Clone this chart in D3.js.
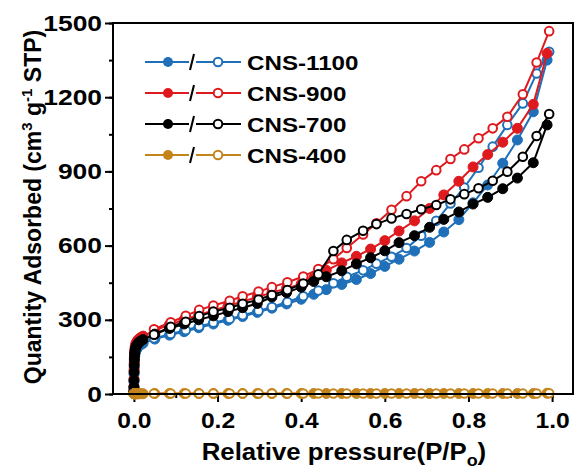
<!DOCTYPE html>
<html>
<head>
<meta charset="utf-8">
<script src="https://cdn.jsdelivr.net/npm/d3@7"></script>
<style>
  body { margin: 0; background: white; }
  svg { display: block; }
  text { font-family: 'Liberation Sans', Arial, sans-serif; font-weight: bold; }
</style>
</head>
<body>
<div id="bigdiv"></div>
<script>
// relative pressure grids
const pAds = [0.00005, 0.0001, 0.0002, 0.0004, 0.0007, 0.001, 0.0015, 0.002, 0.003, 0.004, 0.005, 0.006, 0.008, 0.01, 0.013, 0.017, 0.022,
  0.05, 0.085, 0.12, 0.155, 0.19, 0.225, 0.26, 0.295, 0.33, 0.365, 0.40, 0.43, 0.46, 0.497, 0.532, 0.566, 0.60, 0.634,
  0.671, 0.707, 0.741, 0.777, 0.811, 0.846, 0.882, 0.917, 0.955, 0.988]
const pDes = [0.993, 0.963, 0.93, 0.893, 0.858, 0.824, 0.79, 0.757, 0.723, 0.687, 0.652, 0.616, 0.58, 0.548, 0.509, 0.477,
  0.441, 0.405, 0.367, 0.33, 0.298, 0.26, 0.229, 0.19, 0.156, 0.124, 0.088, 0.048]

// quantity adsorbed (cm3/g STP)
const ads1100 = [10, 25, 50, 80, 105, 125, 142, 153, 165, 172, 177, 181, 186, 190, 195, 200, 205,
  222, 238, 252, 268, 283, 298, 313, 330, 347, 364, 383, 403, 422, 443, 463, 487, 516, 545, 578, 613, 655, 705, 773, 845, 933, 1027, 1141, 1350]
const des1100 = [1384, 1296, 1175, 1088, 1000, 915, 835, 770, 700, 640, 590, 555, 527, 500, 474, 448, 418, 395, 372, 352, 336, 318, 303, 288, 273, 258, 243, 225]

const ads900 = [12, 30, 60, 95, 125, 148, 165, 177, 190, 198, 204, 208, 214, 219, 224, 229, 234,
  258, 280, 300, 320, 338, 356, 374, 392, 410, 427, 445, 468, 500, 530, 557, 586, 620, 659, 700, 750, 805, 860, 918, 968, 1018, 1074, 1171, 1377]
const des900 = [1467, 1340, 1212, 1121, 1074, 1034, 989, 950, 905, 860, 800, 745, 690, 645, 590, 545, 505, 475, 452, 432, 414, 395, 377, 358, 340, 316, 290, 262]

const ads700 = [11, 28, 55, 88, 115, 138, 155, 166, 178, 186, 191, 195, 200, 205, 210, 215, 220,
  242, 265, 283, 300, 316, 333, 349, 366, 392, 410, 432, 455, 474, 498, 526, 551, 579, 612, 640, 674, 706, 736, 768, 795, 830, 873, 935, 1088]
const des700 = [1132, 1043, 959, 899, 862, 832, 808, 787, 764, 747, 728, 710, 687, 660, 623, 578, 484, 447, 420, 400, 382, 365, 349, 333, 315, 292, 272, 240]

const ads400 = [1, 1, 1, 1, 1, 1, 1, 1, 1, 1, 1, 1, 1, 1, 1, 1, 1,
  2, 2, 2, 2, 2, 2, 2, 2, 2, 2, 2, 2, 2, 2, 2, 2, 2, 2, 2, 2, 2, 2, 2, 2, 2, 2, 2, 3]
const des400 = [3, 2, 2, 2, 2, 2, 2, 2, 2, 2, 2, 2, 2, 2, 2, 2, 2, 2, 2, 2, 2, 2, 2, 2, 2, 2, 2, 2]

const names = ['CNS-1100', 'CNS-900', 'CNS-700', 'CNS-400']
const colors = ['#1f70b8', '#de1a1f', '#000000', '#c4841c']
const adsSeries = [ads1100, ads900, ads700, ads400]
const desSeries = [des1100, des900, des700, des400]

const xTicks = [0, 0.2, 0.4, 0.6, 0.8, 1.0]
const yTicks = [0, 300, 600, 900, 1200, 1500]

const W = 577, H = 470
const plot = { left: 113, right: 573, top: 23, bottom: 394 }

let svg = d3.select('div#bigdiv').append('svg')
  .attr('width', W).attr('height', H)

let x = d3.scaleLinear().domain([-0.05, 1.05]).range([plot.left, plot.right])
let y = d3.scaleLinear().domain([0, 1500]).range([plot.bottom, plot.top])

// the reference type is a bit wider than Liberation Sans, stretch it
function stretch(sel, k) {
  sel.each(function () {
    let len = this.getComputedTextLength()
    d3.select(this).attr('textLength', len * k).attr('lengthAdjust', 'spacingAndGlyphs')
  })
}

// minor ticks
let xAxisMinor = d3.axisBottom(x).tickValues(d3.range(0, 1.01, 0.1)).tickSize(4).tickFormat('')
let yAxisMinor = d3.axisLeft(y).tickValues(d3.range(0, 1501, 150)).tickSize(4).tickFormat('')
let xAxis = d3.axisBottom(x).tickValues(xTicks).tickSize(8).tickPadding(10).tickFormat(d3.format('.1f'))
let yAxis = d3.axisLeft(y).tickValues(yTicks).tickSize(8).tickPadding(3).tickFormat(d3.format('d'))

function styleAxis(g) {
  g.select('.domain').remove()
  g.selectAll('line').attr('stroke', 'black').attr('stroke-width', 2)
  g.selectAll('text').attr('fill', 'black').style('font-size', '22px')
}

svg.append('g').attr('transform', 'translate(0,' + plot.bottom + ')').call(xAxisMinor).call(styleAxis)
svg.append('g').attr('transform', 'translate(' + plot.left + ',0)').call(yAxisMinor).call(styleAxis)
let gx = svg.append('g').attr('transform', 'translate(0,' + plot.bottom + ')').call(xAxis).call(styleAxis)
let gy = svg.append('g').attr('transform', 'translate(' + plot.left + ',0)').call(yAxis).call(styleAxis)
stretch(gx.selectAll('text'), 1.12)
stretch(gy.selectAll('text'), 1.2)

// curves
let line = d3.line().x(d => x(d[0])).y(d => y(d[1]))
let curvesg = svg.append('g').attr('id', 'curves')

adsSeries.forEach((ads, si) => {
  let col = colors[si]
  let adsPts = pAds.map((p, i) => [p, ads[i]])
  let desPts = pDes.map((p, i) => [p, desSeries[si][i]])

  curvesg.append('path').datum(adsPts)
    .attr('d', line).attr('fill', 'none').attr('stroke', col).attr('stroke-width', 2)
  curvesg.append('g').selectAll('circle').data(adsPts).enter().append('circle')
    .attr('cx', d => x(d[0])).attr('cy', d => y(d[1])).attr('r', 5)
    .attr('fill', col).attr('stroke', col).attr('stroke-width', 1)

  curvesg.append('path').datum(desPts)
    .attr('d', line).attr('fill', 'none').attr('stroke', col).attr('stroke-width', 2)
  curvesg.append('g').selectAll('circle').data(desPts).enter().append('circle')
    .attr('cx', d => x(d[0])).attr('cy', d => y(d[1])).attr('r', 4.3)
    .attr('fill', 'white').attr('stroke', col).attr('stroke-width', 2)
})

// frame
svg.append('rect')
  .attr('x', plot.left).attr('y', plot.top)
  .attr('width', plot.right - plot.left).attr('height', plot.bottom - plot.top)
  .attr('fill', 'none').attr('stroke', 'black').attr('stroke-width', 2)

// legend
let legend = svg.append('g').attr('id', 'legend')
names.forEach((nm, i) => {
  let ly = 62 + i * 31
  let col = colors[i]
  let lg = legend.append('g').attr('transform', 'translate(0,' + ly + ')')
  lg.append('line').attr('x1', 145).attr('x2', 189).attr('y1', 0).attr('y2', 0)
    .attr('stroke', col).attr('stroke-width', 2)
  lg.append('line').attr('x1', 196).attr('x2', 241).attr('y1', 0).attr('y2', 0)
    .attr('stroke', col).attr('stroke-width', 2)
  lg.append('circle').attr('cx', 168).attr('cy', 0).attr('r', 5).attr('fill', col)
  lg.append('circle').attr('cx', 218).attr('cy', 0).attr('r', 4.3)
    .attr('fill', 'white').attr('stroke', col).attr('stroke-width', 2)
  lg.append('line').attr('x1', 190).attr('x2', 194).attr('y1', 8).attr('y2', -8)
    .attr('stroke', 'black').attr('stroke-width', 2)
  let t = lg.append('text').attr('x', 247).attr('y', 8).style('font-size', '21px').attr('fill', 'black').text(nm)
  stretch(t, 1.15)
})

// axis titles
let xt = svg.append('text').attr('x', 344).attr('y', 460).attr('text-anchor', 'middle')
  .style('font-size', '23px').attr('fill', 'black')
xt.append('tspan').text('Relative pressure(P/P')
xt.append('tspan').attr('dy', 6).style('font-size', '16px').text('o')
xt.append('tspan').attr('dy', -6).text(')')
stretch(xt, 1.12)

let yt = svg.append('text').attr('transform', 'translate(41,207) rotate(-90)').attr('text-anchor', 'middle')
  .style('font-size', '23px').attr('fill', 'black')
yt.append('tspan').text('Quantity Adsorbed (cm')
yt.append('tspan').attr('dy', -9).style('font-size', '15px').text('3')
yt.append('tspan').attr('dy', 9).text(' g')
yt.append('tspan').attr('dy', -9).style('font-size', '15px').text('-1')
yt.append('tspan').attr('dy', 9).text(' STP)')
</script>
</body>
</html>
